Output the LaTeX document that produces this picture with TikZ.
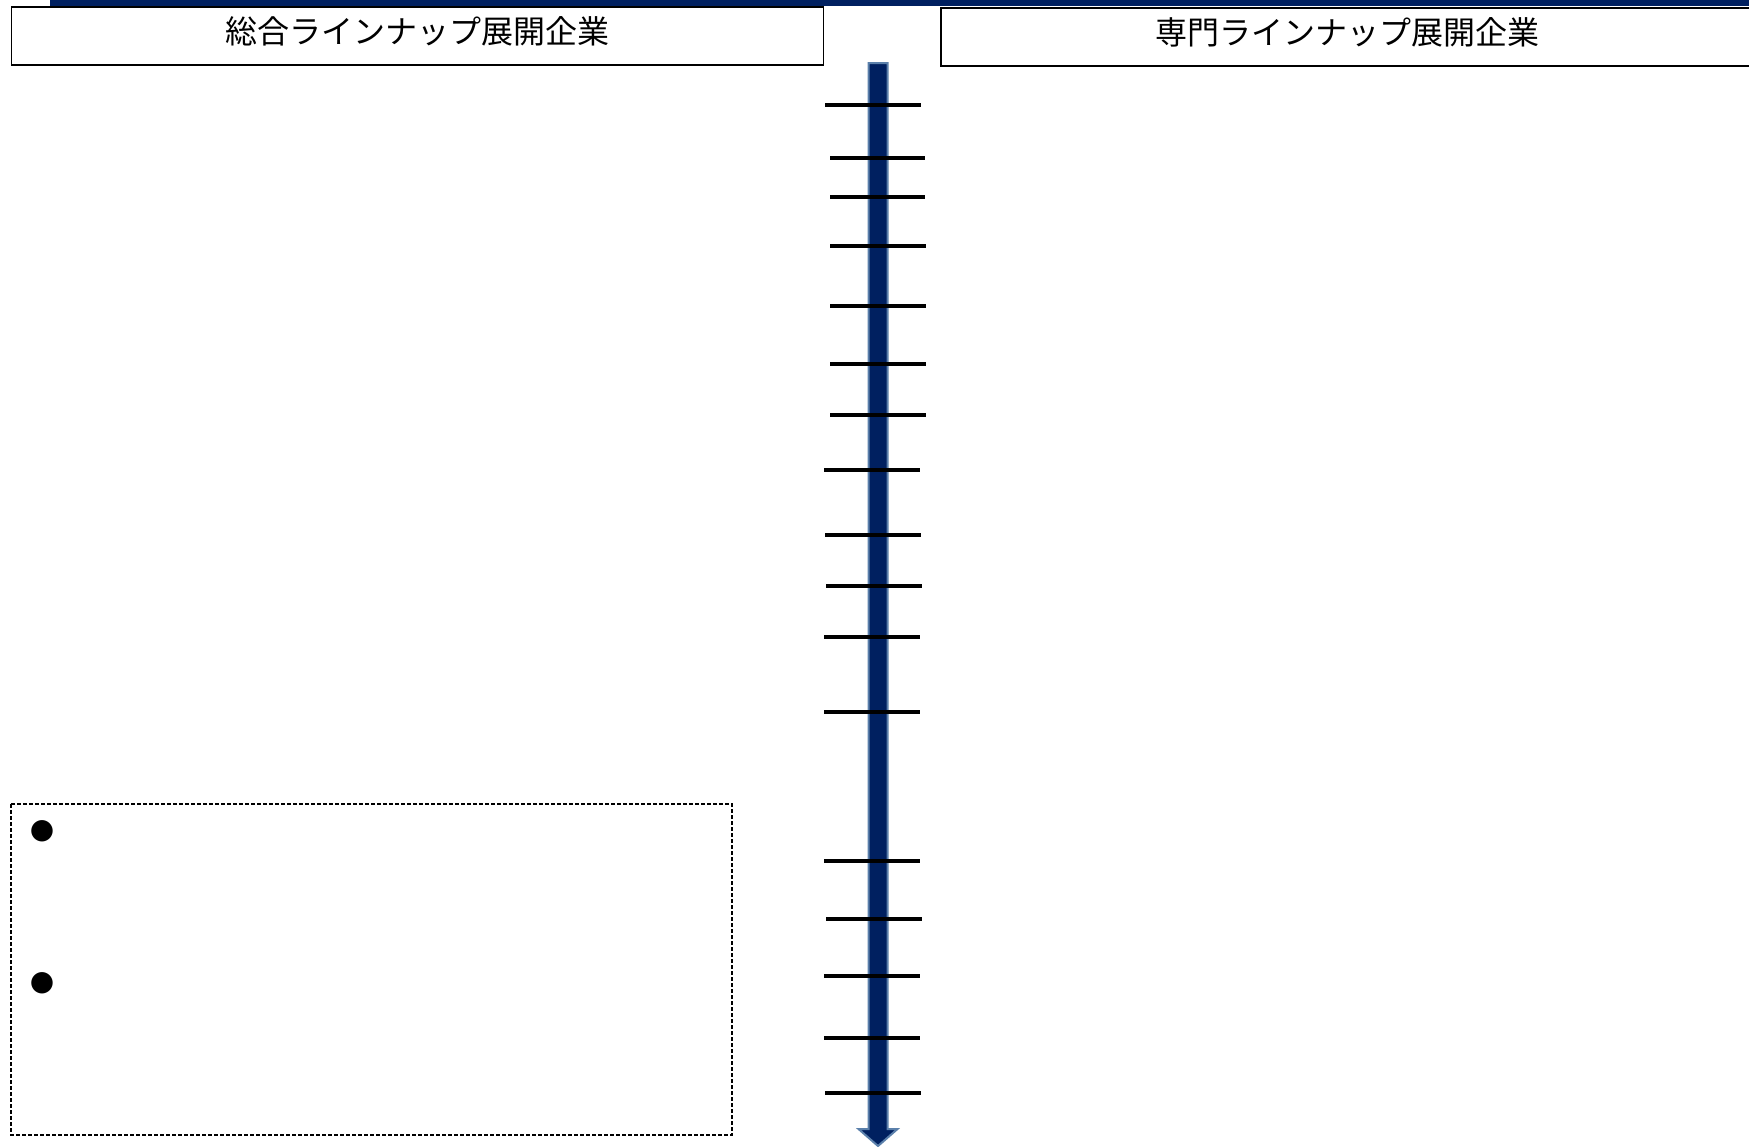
\documentclass[tikz,border=0pt]{standalone}
\usepackage{fontspec}
\newfontfamily\jpfont{Noto Sans CJK JP}
\newfontfamily\symfont{DejaVu Sans}
\usetikzlibrary{positioning, calc}
\definecolor{kon}{HTML}{002060}
\definecolor{konfuchi}{HTML}{5B80AB}

\begin{document}
\begin{tikzpicture}[x=0.5pt, y=-0.5pt,
  midashi/.style={
    rectangle, draw=black, line width=0.8pt, fill=white,
    font=\jpfont\fontsize{16}{18}\selectfont,
    minimum width=406pt, minimum height=29pt, inner sep=0pt,
    text height=12pt, text depth=4.8pt
  },
  memori/.style={draw=black, line width=2.2pt},
  waku/.style={draw=black, line width=0.7pt, dash pattern=on 2pt off 1pt},
  maru/.style={font=\symfont\fontsize{14}{14}\selectfont, inner sep=0pt}
]
  \useasboundingbox (0,0) rectangle (1749,1146);

  % top band
  \fill[kon] (50,0) rectangle (1749,6);

  % headers
  \node[midashi] (sogo)   at (417.5,36) {総合ラインナップ展開企業};
  \node[midashi] (senmon) at (1347,37)  {専門ラインナップ展開企業};

  % time axis
  \coordinate (jiku-ue)   at (878,63);
  \coordinate (jiku-sita) at (878,1146);
  \filldraw[fill=kon, draw=konfuchi, line width=1pt]
    ($(jiku-ue)+(-9.5,0)$) -- ($(jiku-ue)+(9.5,0)$)
    -- (887.5,1129) -- (897.5,1129) -- (jiku-sita)
    -- (858.5,1129) -- (868.5,1129) -- cycle;

  \foreach \y/\xl/\xr in {105/825/921, 158/830/925, 197/830/925,
      246/830/926, 306/830/926, 364/830/926, 415/830/926,
      470/824/920, 535/825/921, 586/826/922, 637/824/920,
      712/824/920, 861/824/920, 919/826/922, 976/824/920,
      1038/824/920, 1093/825/921}
    \draw[memori] (\xl,\y) -- (\xr,\y);

  % note box
  \draw[waku] (11,804) rectangle (732,1135);
  \node[maru] (pt1) at (42,831) {●};
  \node[maru] (pt2) at (42,983) {●};
\end{tikzpicture}
\end{document}
